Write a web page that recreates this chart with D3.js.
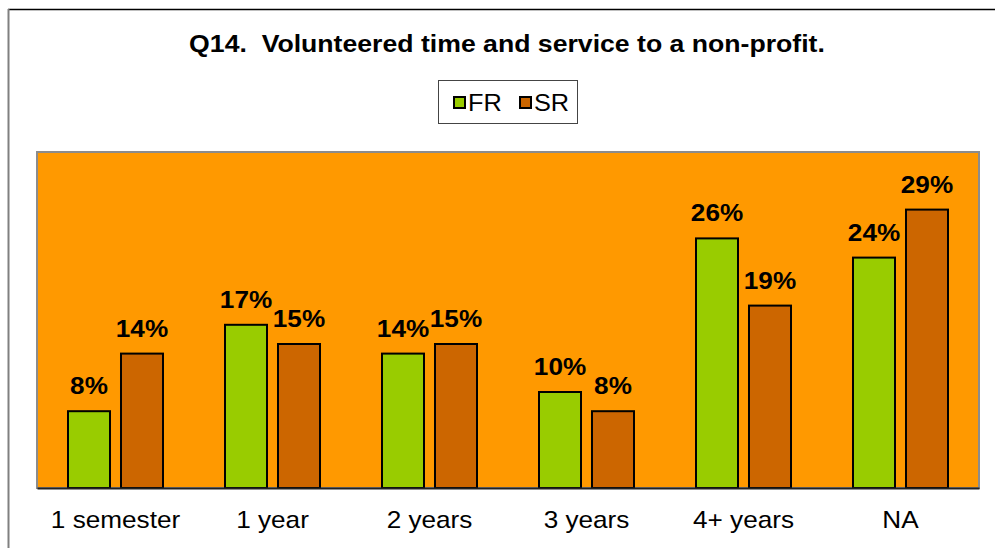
<!DOCTYPE html>
<html>
<head>
<meta charset="utf-8">
<script src="https://cdn.jsdelivr.net/npm/d3@7"></script>
<style>
  body { margin: 0; background: #fff; }
  text { font-family: "Liberation Sans", Arial, sans-serif; }
</style>
</head>
<body>
<div class="chart"></div>
<script>
var categories = ["1 semester", "1 year", "2 years", "3 years", "4+ years", "NA"];
var series = ["FR", "SR"];
var frValues = [8, 17, 14, 10, 26, 24];
var srValues = [14, 15, 15, 8, 19, 29];
var yMax = 35;

var w = 995;
var h = 548;
var plot = { left: 37, right: 979, top: 152, bottom: 488 };
var colors = { FR: "#99CC00", SR: "#CC6600" };
var fontSize = 24;
var stretch = 1.09; // text in the picture is a bit wider than tall

var svg = d3.select(".chart")
            .append("svg")
            .attr("width", w)
            .attr("height", h);

// chart frame
svg.append("line")
   .attr("x1", 8).attr("y1", 9.5).attr("x2", w).attr("y2", 9.5)
   .attr("stroke", "#000").attr("stroke-width", 1.5);
svg.append("line")
   .attr("x1", 8.5).attr("y1", 9).attr("x2", 8.5).attr("y2", h)
   .attr("stroke", "#808080").attr("stroke-width", 2);

// title
svg.append("text")
   .attr("transform", "translate(507,52) scale(1.11,1)")
   .attr("text-anchor", "middle")
   .attr("font-size", fontSize)
   .attr("font-weight", "bold")
   .text("Q14.\u00a0 Volunteered time and service to a non-profit.");

// legend
var legend = svg.append("g").attr("transform", "translate(438,80)");
legend.append("rect")
      .attr("x", 0.5).attr("y", 0.5)
      .attr("width", 139).attr("height", 43)
      .attr("fill", "#fff").attr("stroke", "#444").attr("stroke-width", 1);
var legendItems = legend.selectAll("g.item")
      .data(series)
      .enter()
      .append("g")
      .attr("class", "item")
      .attr("transform", function(d, i){
        return "translate(" + (16 + i * 66) + ",0)";
      });
legendItems.append("rect")
      .attr("x", 0).attr("y", 17)
      .attr("width", 11).attr("height", 11)
      .attr("fill", function(d){ return colors[d]; })
      .attr("stroke", "#000").attr("stroke-width", 2);
legendItems.append("text")
      .attr("transform", "translate(14,31) scale(1.1,1)")
      .attr("font-size", 23)
      .text(function(d){ return d; });

// scales
var xScale = d3.scaleBand()
               .domain(categories)
               .range([plot.left, plot.right]);
var xInner = d3.scaleBand()
               .domain(series)
               .range([0, xScale.bandwidth()])
               .paddingInner(0.2075)
               .paddingOuter(0.585);
var yScale = d3.scaleLinear()
               .domain([0, yMax])
               .range([plot.bottom, plot.top]);

// plot area
svg.append("rect")
   .attr("x", plot.left)
   .attr("y", plot.top)
   .attr("width", plot.right - plot.left)
   .attr("height", plot.bottom - plot.top)
   .attr("fill", "#FF9900")
   .attr("stroke", "#8c8c8c")
   .attr("stroke-width", 2);

var rows = categories.map(function(c, i){
  return { cat: c, values: [
    { key: "FR", value: frValues[i] },
    { key: "SR", value: srValues[i] }
  ]};
});

var groups = svg.selectAll("g.group")
                .data(rows)
                .enter()
                .append("g")
                .attr("class", "group")
                .attr("transform", function(d){
                  return "translate(" + xScale(d.cat) + ",0)";
                });

groups.selectAll("rect")
      .data(function(d){ return d.values; })
      .enter()
      .append("rect")
      .attr("x", function(d){ return xInner(d.key); })
      .attr("y", function(d){ return yScale(d.value); })
      .attr("width", xInner.bandwidth())
      .attr("height", function(d){ return plot.bottom - yScale(d.value); })
      .attr("fill", function(d){ return colors[d.key]; })
      .attr("stroke", "#000")
      .attr("stroke-width", 2);

groups.selectAll("text")
      .data(function(d){ return d.values; })
      .enter()
      .append("text")
      .attr("transform", function(d){
        return "translate(" + (xInner(d.key) + xInner.bandwidth() / 2) + "," +
               (yScale(d.value) - 17) + ") scale(" + stretch + ",1)";
      })
      .attr("text-anchor", "middle")
      .attr("font-size", fontSize)
      .attr("font-weight", "bold")
      .text(function(d){ return d.value + "%"; });

// category axis
var xAxis = d3.axisBottom(xScale)
              .tickSize(0)
              .tickSizeOuter(0);
var axisG = svg.append("g")
               .attr("transform", "translate(0," + plot.bottom + ")")
               .call(xAxis);
axisG.select(".domain")
     .attr("stroke", "#222")
     .attr("stroke-width", 2);
axisG.selectAll("text")
     .attr("y", null)
     .attr("dy", null)
     .attr("transform", "translate(0,40) scale(" + stretch + ",1)")
     .attr("font-size", fontSize)
     .attr("font-family", "Liberation Sans, Arial, sans-serif")
     .attr("fill", "#000");
</script>
</body>
</html>
